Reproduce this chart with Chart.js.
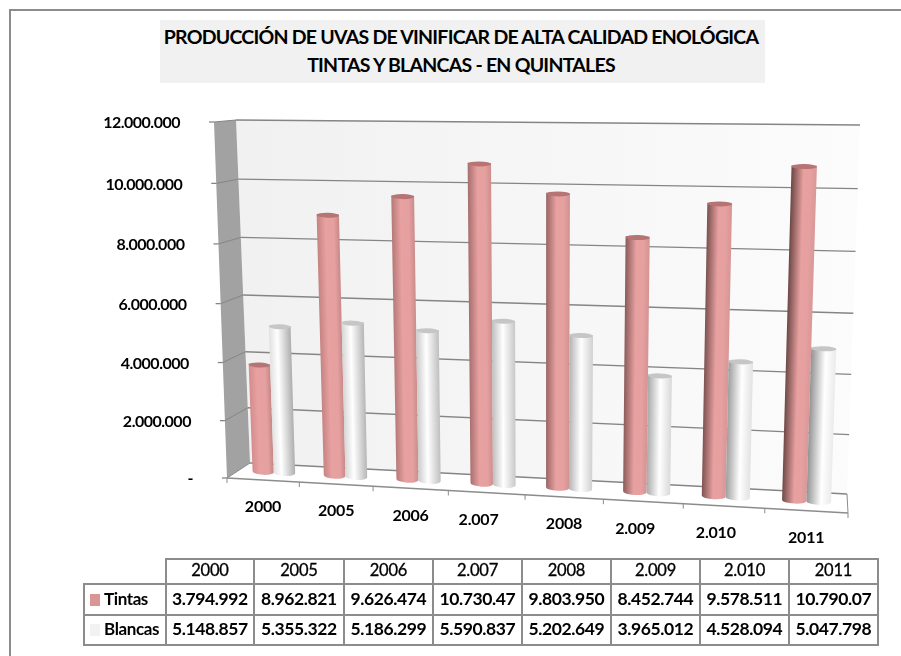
<!DOCTYPE html>
<html lang="es">
<head>
<meta charset="utf-8">
<title>Producción de uvas</title>
<script src="https://cdn.jsdelivr.net/npm/chart.js@4"></script>
<style>
  html, body { margin: 0; padding: 0; background: #fff; }
  body { position: relative; width: 901px; height: 656px; overflow: hidden; font-family: Lato, sans-serif; color: #000; }
  #frame { position: absolute; left: 9px; top: 9px; width: 892px; height: 647px; border-left: 2px solid #8c8c8c; border-top: 2px solid #8c8c8c; box-sizing: border-box; }
  #chart { position: absolute; left: 0; top: 0; }
  #title { position: absolute; left: 160px; top: 20px; width: 605px; height: 63px; background: #f1f1f1; text-align: center; font-weight: 700; font-size: 19.5px; line-height: 28px; padding: 3px 3px 0 0; box-sizing: border-box; letter-spacing: -0.75px; white-space: nowrap; }
  #datos { position: absolute; left: 83px; top: 558px; border-collapse: collapse; table-layout: fixed; width: 794px; font-size: 17.5px; font-weight: 700; letter-spacing: -0.4px; }
  #datos td, #datos th { border: 2px solid #8c8c8c; padding: 0 0 3px 0; text-align: center; overflow: hidden; white-space: nowrap; }
  #datos th { font-weight: 400; font-size: 16.5px; letter-spacing: -0.2px; -webkit-text-stroke: 0.3px #000; }
  #datos th.vacio { border-top: none; border-left: none; }
  #datos td.serie { text-align: left; padding-left: 5px; font-size: 17px; }
  .clave { display: inline-block; width: 10px; height: 12px; margin-right: 4px; vertical-align: -1px; }
</style>
</head>
<body>
<div id="frame"></div>
<canvas id="chart" width="901" height="656"></canvas>
<div id="title">PRODUCCIÓN DE UVAS DE VINIFICAR DE ALTA CALIDAD ENOLÓGICA<br>TINTAS Y BLANCAS - EN QUINTALES</div>
<table id="datos"></table>
<script>
/* Data */
const categories = ['2000', '2005', '2006', '2.007', '2008', '2.009', '2.010', '2011'];
const tintas = [3794992, 8962821, 9626474, 10730470, 9803950, 8452744, 9578511, 10790070];
const blancas = [5148857, 5355322, 5186299, 5590837, 5202649, 3965012, 4528094, 5047798];
const colWidths = [82, 88, 90, 89, 89, 89, 89, 89, 89];
const rowHeights = [25, 31, 30];

const PINK = '#d99694';
const WHITE = '#f2f2f2';

function fmt(v) {
  return String(v).replace(/\B(?=(\d{3})+$)/g, '.');
}

/* Fake 3D: u, v from the scales, d = depth (0 front, 1 back) */
function warp(u) {
  return 0.923 * u / (1 - 0.077 * u);
}
function warpV(v) {
  return 0.96 * v / (1 - 0.04 * v);
}
function project(u, v0, d) {
  const w = warp(u);
  const v = warpV(v0);
  const lx = (227 - 13 * v) * (1 - d) + (250 - 14 * v) * d;
  const ly = (478 - 356 * v) * (1 - d) + (463 - 343 * v) * d;
  const rx = (848 + 14 * v) * (1 - d) + (847 + 13 * v) * d;
  const ry = (513 - 384 * v) * (1 - d) + (494 - 369 * v) * d;
  return { x: lx + (rx - lx) * w, y: ly + (ry - ly) * w };
}

function poly(ctx, pts) {
  ctx.beginPath();
  pts.forEach((p, i) => i ? ctx.lineTo(p.x, p.y) : ctx.moveTo(p.x, p.y));
  ctx.closePath();
}
function line(ctx, a, b, color, width) {
  ctx.strokeStyle = color;
  ctx.lineWidth = width;
  ctx.beginPath();
  ctx.moveTo(a.x, a.y);
  ctx.lineTo(b.x, b.y);
  ctx.stroke();
}
function mix(c1, c2, t) {
  const ch = (c, i) => parseInt(c.substr(1 + i * 2, 2), 16);
  const out = [0, 1, 2].map(i => Math.round(ch(c1, i) + (ch(c2, i) - ch(c1, i)) * t));
  return 'rgb(' + out.join(',') + ')';
}

function drawWalls(ctx, chart) {
  const y = chart.scales.y;
  const area = chart.chartArea;

  const wall = ctx.createLinearGradient(250, 0, 860, 0);
  wall.addColorStop(0, '#f1f1f1');
  wall.addColorStop(1, '#fcfcfc');
  ctx.fillStyle = wall;
  poly(ctx, [project(0, 0, 1), project(0, 1, 1), project(1, 1, 1), project(1, 0, 1)]);
  ctx.fill();

  ctx.fillStyle = '#a2a2a2';
  poly(ctx, [project(0, 0, 0), project(0, 1, 0), project(0, 1, 1), project(0, 0, 1)]);
  ctx.fill();

  ctx.fillStyle = '#ffffff';
  poly(ctx, [project(0, 0, 0), project(0, 0, 1), project(1, 0, 1), project(1, 0, 0)]);
  ctx.fill();

  y.ticks.forEach(t => {
    const v = (area.bottom - y.getPixelForValue(t.value)) / area.height;
    line(ctx, project(0, v, 1), project(1, v, 1), '#858585', 1.3);
    const front = project(0, v, 0);
    line(ctx, front, project(0, v, 1), '#858585', 1);
    line(ctx, { x: front.x - 5, y: front.y }, front, '#858585', 1.3);

    ctx.fillStyle = '#000';
    ctx.font = 'bold 16px Lato';
    ctx.letterSpacing = '-0.5px';
    ctx.textAlign = 'right';
    ctx.textBaseline = 'middle';
    ctx.fillText(t.label, front.x - 34, front.y + 1);
  });

  // front edge of the floor, ticks and category labels
  line(ctx, project(0, 0, 0), project(1, 0, 0), '#8c8c8c', 1.3);
  line(ctx, project(1, 0, 1), project(1, 0, 0), '#8c8c8c', 1);
  const x = chart.scales.x;
  for (let i = 0; i <= categories.length; i++) {
    const p = project(i / categories.length, 0, 0);
    line(ctx, p, { x: p.x, y: p.y + 5 }, '#8c8c8c', 1);
  }
  categories.forEach((c, i) => {
    const u = (x.getPixelForValue(i) - area.left) / area.width;
    const p = project(u, 0, 0);
    ctx.fillStyle = '#000';
    ctx.font = 'bold 16px Lato';
    ctx.letterSpacing = '-0.2px';
    ctx.textAlign = 'center';
    ctx.textBaseline = 'middle';
    // the dotted years sit a bit further left in the original
    ctx.fillText(c, p.x + (c.includes('.') ? -8 : 0), p.y + 27);
  });
}

function drawCylinder(ctx, area, el, isPink) {
  const toU = px => (px - area.left) / area.width;
  const toV = py => (area.bottom - py) / area.height;
  const uL = toU(el.x - el.width / 2), uR = toU(el.x + el.width / 2), uC = toU(el.x);
  const vT = toV(el.y), vB = toV(el.base);
  const bl = project(uL, vB, 0.5), br = project(uR, vB, 0.5);
  const tl = project(uL, vT, 0.5), tr = project(uR, vT, 0.5);

  const mx = (bl.x + br.x + tl.x + tr.x) / 4, my = (bl.y + br.y + tl.y + tr.y) / 4;
  const ax = (tl.x + tr.x - bl.x - br.x) / 2, ay = (tl.y + tr.y - bl.y - br.y) / 2;
  const len = Math.hypot(ax, ay);
  const half = (br.x - bl.x + tr.x - tl.x) / 4;
  const nx = -ay / len * half, ny = ax / len * half;
  const g = ctx.createLinearGradient(mx - nx, my - ny, mx + nx, my + ny);
  if (isPink) {
    g.addColorStop(0, mix('#d89090', '#64423f', uC));
    g.addColorStop(0.35 + 0.15 * uC, '#e8a0a0');
    g.addColorStop(0.75, '#e6a0a0');
    g.addColorStop(1, mix('#c48686', '#dc9a9a', uC));
  } else {
    g.addColorStop(0, mix('#e8e8e8', '#8f8f8f', uC));
    g.addColorStop(0.35 + 0.25 * uC, '#ffffff');
    g.addColorStop(1, mix('#a8a8a8', '#eeeeee', uC));
  }

  const capTilt = Math.atan2(tr.y - tl.y, tr.x - tl.x);
  const baseTilt = Math.atan2(br.y - bl.y, br.x - bl.x);
  const rT = Math.hypot(tr.x - tl.x, tr.y - tl.y) / 2;
  const rB = Math.hypot(br.x - bl.x, br.y - bl.y) / 2;

  ctx.fillStyle = g;
  ctx.beginPath();
  ctx.moveTo(tl.x, tl.y);
  ctx.lineTo(bl.x, bl.y);
  ctx.ellipse((bl.x + br.x) / 2, (bl.y + br.y) / 2, rB, 3, baseTilt, Math.PI, 0, true);
  ctx.lineTo(tr.x, tr.y);
  ctx.closePath();
  ctx.fill();

  ctx.fillStyle = isPink ? '#b67474' : '#c6c6c6';
  ctx.beginPath();
  ctx.ellipse((tl.x + tr.x) / 2, (tl.y + tr.y) / 2 + 1, rT, 2.5, capTilt, 0, Math.PI * 2);
  ctx.fill();
}

/* Replaces the flat bars: walls first, then cylinders from the bar elements */
const fake3d = {
  id: 'fake3d',
  beforeDatasetsDraw(chart) {
    const ctx = chart.ctx;
    ctx.save();
    drawWalls(ctx, chart);
    chart.data.datasets.forEach((ds, i) => {
      chart.getDatasetMeta(i).data.forEach(el => drawCylinder(ctx, chart.chartArea, el, i === 0));
    });
    ctx.restore();
    return false;
  }
};

new Chart(document.getElementById('chart'), {
  type: 'bar',
  data: {
    labels: categories,
    datasets: [
      { label: 'Tintas', data: tintas, backgroundColor: PINK },
      { label: 'Blancas', data: blancas, backgroundColor: WHITE }
    ]
  },
  options: {
    responsive: false,
    animation: false,
    events: [],
    layout: { padding: { left: 225, right: 41, top: 122, bottom: 178 } },
    datasets: { bar: { categoryPercentage: 0.6, barPercentage: 1 } },
    plugins: { legend: { display: false }, tooltip: { enabled: false } },
    scales: {
      x: { display: false },
      y: {
        display: false,
        min: 0,
        max: 12000000,
        ticks: { stepSize: 2000000, callback: v => v === 0 ? '-' : fmt(v) }
      }
    }
  },
  plugins: [fake3d]
});

/* Data table under the chart, cells cut to 9 characters like the original */
function buildTable() {
  const cell = v => '<td>' + fmt(v).slice(0, 9) + '</td>';
  const cols = colWidths.map(w => '<col style="width:' + w + 'px">').join('');
  const head = categories.map(c => '<th>' + c + '</th>').join('');
  const row = (name, color, vals) =>
    '<td class="serie"><span class="clave" style="background:' + color + '"></span>' + name + '</td>' + vals.map(cell).join('');
  document.getElementById('datos').innerHTML =
    '<colgroup>' + cols + '</colgroup>' +
    '<tr style="height:' + rowHeights[0] + 'px"><th class="vacio"></th>' + head + '</tr>' +
    '<tr style="height:' + rowHeights[1] + 'px">' + row('Tintas', PINK, tintas) + '</tr>' +
    '<tr style="height:' + rowHeights[2] + 'px">' + row('Blancas', WHITE, blancas) + '</tr>';
}
buildTable();
</script>
</body>
</html>
